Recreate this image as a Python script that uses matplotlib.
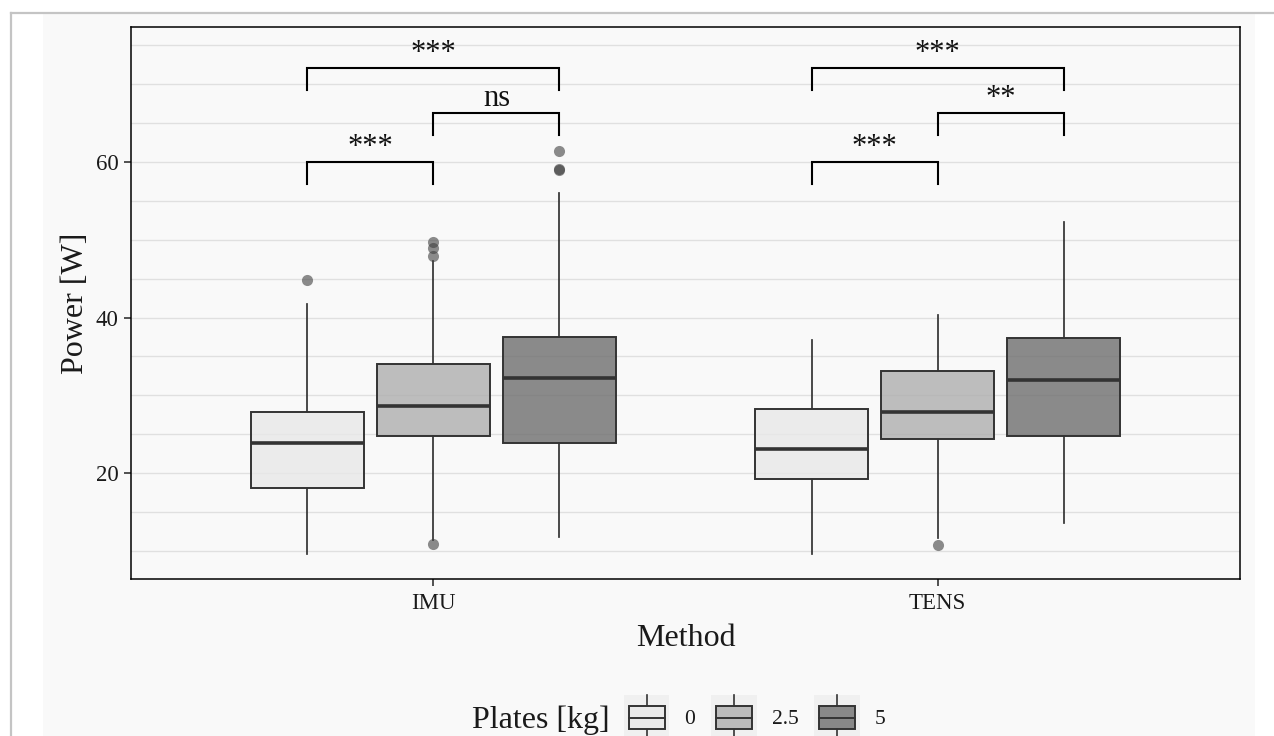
import matplotlib
matplotlib.use("Agg")
import matplotlib.pyplot as plt
from matplotlib.patches import Rectangle
from matplotlib.lines import Line2D
from matplotlib.legend_handler import HandlerBase

# ---------------- data ----------------
methods = ["IMU", "TENS"]
plates = ["0", "2.5", "5"]

# IMU box statistics (per plate level)
imu_whislo = [9.6, 11.4, 11.8]
imu_q1 = [18.1, 24.8, 23.9]
imu_med = [23.9, 28.6, 32.2]
imu_q3 = [27.8, 34.0, 37.5]
imu_whishi = [41.7, 47.3, 56.0]
imu_fliers = [[44.8], [10.9, 47.9, 48.9, 49.7], [59.0, 59.1, 61.4]]

# TENS box statistics (per plate level)
tens_whislo = [9.6, 11.6, 13.6]
tens_q1 = [19.2, 24.4, 24.8]
tens_med = [23.1, 27.85, 32.0]
tens_q3 = [28.2, 33.1, 37.3]
tens_whishi = [37.1, 40.3, 52.3]
tens_fliers = [[], [10.8], []]

# significance brackets: (group a, group b, height, label)
imu_brackets = [(0, 1, 60.0, "***"), (1, 2, 66.3, "ns"), (0, 2, 72.1, "***")]
tens_brackets = [(0, 1, 60.0, "***"), (1, 2, 66.3, "**"), (0, 2, 72.1, "***")]

y_ticks = [20, 40, 60]
y_grid = [10, 15, 20, 25, 30, 35, 40, 45, 50, 55, 60, 65, 70, 75]

# ---------------- style ----------------
FILLS = ["#e8e8e8", "#aeaeae", "#6e6e6e"]
FILL_ALPHA = 0.8
EDGE = "#333333"
BG = "#f9f9f9"
SERIF = ["Liberation Serif", "DejaVu Serif"]

plt.rcParams["font.family"] = SERIF

W, H = 1274, 736
fig = plt.figure(figsize=(W / 100, H / 100), dpi=100, facecolor="white")

# plot background and outer frame
fig.patches.append(Rectangle((43 / W, 0), (1255 - 43) / W, (H - 14) / H,
                             transform=fig.transFigure, facecolor=BG,
                             edgecolor="none", zorder=-10))
fig.lines.append(Line2D([11 / W, 11 / W], [0, 1 - 12.5 / H], transform=fig.transFigure,
                        color="#c4c4c4", lw=1.6, zorder=-5))
fig.lines.append(Line2D([11 / W, 1], [1 - 12.5 / H, 1 - 12.5 / H], transform=fig.transFigure,
                        color="#c4c4c4", lw=1.6, zorder=-5))

ax = fig.add_axes([131 / W, 1 - 579 / H, (1240 - 131) / W, (579 - 27) / H])
ax.set_facecolor(BG)

offsets = [-0.25, 0.0, 0.25]
box_w = 0.2257

series = [
    (imu_whislo, imu_q1, imu_med, imu_q3, imu_whishi, imu_fliers),
    (tens_whislo, tens_q1, tens_med, tens_q3, tens_whishi, tens_fliers),
]

for mi, (wlo, q1, med, q3, whi, fl) in enumerate(series):
    for pi in range(3):
        stats = [dict(whislo=wlo[pi], q1=q1[pi], med=med[pi], q3=q3[pi],
                      whishi=whi[pi], fliers=fl[pi])]
        pos = mi + 1 + offsets[pi]
        bp = ax.bxp(stats, positions=[pos], widths=box_w, patch_artist=True,
                    showcaps=False, manage_ticks=False,
                    boxprops=dict(facecolor=FILLS[pi], edgecolor=EDGE, linewidth=1.4),
                    whiskerprops=dict(color=EDGE, linewidth=1.25),
                    medianprops=dict(color=EDGE, linewidth=2.6, solid_capstyle="butt"),
                    flierprops=dict(marker="o", markersize=8, markerfacecolor="#404040",
                                    markeredgecolor="none", alpha=0.6))
        for b in bp["boxes"]:
            b.set_facecolor(matplotlib.colors.to_rgba(FILLS[pi], FILL_ALPHA))
            b.set_edgecolor(EDGE)
            b.set_zorder(3)
        for k in ("whiskers", "medians", "fliers"):
            for a in bp[k]:
                a.set_zorder(3.5 if k == "medians" else 2.5)

# significance brackets
tip = 2.8
for mi, brs in enumerate([imu_brackets, tens_brackets]):
    for a, b, yb, lab in brs:
        x1 = mi + 1 + offsets[a]
        x2 = mi + 1 + offsets[b]
        ax.plot([x1, x1, x2, x2], [yb - tip, yb, yb, yb - tip], color="black",
                lw=1.5, solid_joinstyle="miter", zorder=4)
        ax.text((x1 + x2) / 2, yb + 0.85, lab, ha="center", va="baseline",
                fontsize=22, color="#111111", zorder=5)

ax.set_xlim(0.4, 2.6)
ax.set_ylim(6.37, 77.36)
ax.set_xticks([1, 2])
ax.set_xticklabels(methods)
ax.set_yticks(y_ticks)
ax.set_yticklabels([str(v) for v in y_ticks])
ax.set_yticks(y_grid, minor=True)
ax.tick_params(axis="both", which="major", length=5, width=1.2, color="#333333",
               labelsize=16.5, labelcolor="#1a1a1a")
ax.tick_params(axis="x", which="major", pad=5)
ax.tick_params(axis="y", which="major", pad=4)
ax.tick_params(axis="y", which="minor", length=0)
ax.grid(True, axis="y", which="both", color="#e0e0e0", lw=1.0, zorder=0)
ax.set_axisbelow(True)
for s in ax.spines.values():
    s.set_color("black")
    s.set_linewidth(1.1)

ax.set_ylabel("Power [W]", fontsize=23, labelpad=4, color="#1a1a1a")
ax.set_xlabel("Method", fontsize=23, labelpad=7, color="#1a1a1a")


# ---------------- legend ----------------
class BoxKeyHandler(HandlerBase):
    def create_artists(self, legend, orig_handle, xdescent, ydescent, width, height,
                       fontsize, trans):
        fc = orig_handle
        x0, y0 = -xdescent, -ydescent
        arts = []
        arts.append(Rectangle((x0, y0), width, height, facecolor="#f0f0f0",
                              edgecolor="none", transform=trans))
        bx0 = x0 + 0.1 * width
        bw = 0.8 * width
        by0 = y0 + 0.265 * height
        bh = 0.49 * height
        cx = x0 + width / 2
        arts.append(Line2D([cx, cx], [y0, by0], color=EDGE, lw=1.2, transform=trans))
        arts.append(Line2D([cx, cx], [by0 + bh, y0 + height], color=EDGE, lw=1.2,
                           transform=trans))
        arts.append(Rectangle((bx0, by0), bw, bh,
                              facecolor=matplotlib.colors.to_rgba(fc, FILL_ALPHA),
                              edgecolor=EDGE, lw=1.4, transform=trans))
        arts.append(Line2D([bx0, bx0 + bw], [by0 + bh / 2, by0 + bh / 2], color=EDGE,
                           lw=1.4, transform=trans))
        return arts


fig.text(472 / W, 1 - 717 / H, "Plates [kg]", fontsize=23, ha="left", va="center_baseline",
         color="#1a1a1a")
leg = fig.legend(FILLS, plates, handler_map={str: BoxKeyHandler()},
                 loc="center left", bbox_to_anchor=(624 / W, 1 - 718 / H),
                 ncol=3, frameon=False, fontsize=15.5, handlelength=2.1, handleheight=2.9,
                 handletextpad=0.7, columnspacing=0.75, borderpad=0, borderaxespad=0)
for t in leg.get_texts():
    t.set_color("#1a1a1a")

fig.savefig("out.png", dpi=100, facecolor="white")
